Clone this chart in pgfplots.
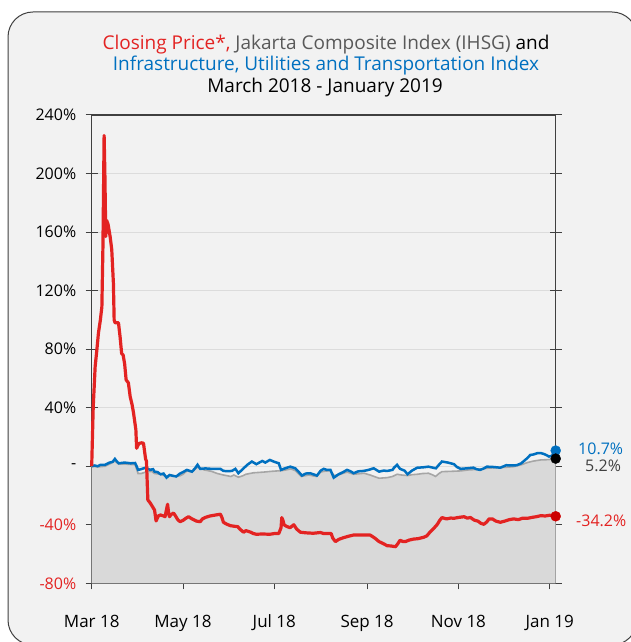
\documentclass[border=0pt]{standalone}
\usepackage{fontspec}
\setmainfont{Open Sans}
\usepackage{pgfplots}
\usepackage{pgfplotstable}
\pgfplotsset{compat=1.18}
\definecolor{bgc}{HTML}{F2F2F2}
\definecolor{redc}{HTML}{E32322}
\definecolor{bluec}{HTML}{0070C0}
\definecolor{grayl}{HTML}{A6A6A6}
\definecolor{grayf}{HTML}{D9D9D9}
\definecolor{axc}{HTML}{404040}
\definecolor{titlegray}{HTML}{595959}
\definecolor{gridc}{HTML}{DCDCDC}

\pgfplotstableread{
x y
0 0
2 0.5
4 0
6 1
9 1
12 2.5
14 3
15.5 5
17 3
18 2
22 2.5
26 2
29 2.2
30 0
31 -2.5
33 -2
36 -1
38 -2
39 -2.5
41 -2
42 -3.7
44 -4
46 -5.5
48 -5
50 -7.8
52 -6
54 -6.5
56.5 -7
59 -5
61 -4
63.6 -2.5
65 -3
67 -3.7
69 -1.5
70.7 1
72.5 -1.8
76 -1.5
80 -1.8
86 -1.8
88 -3.2
91 -3.4
93.7 -3.2
96 -1.8
98 -4.8
101.5 -1.4
104 1
107 3.2
110 1.4
112 2.5
114 3.6
116 2.5
119 4.3
122 3
125 2
126.5 -2.5
129 -1.5
132.7 -0.3
136 -1.4
138 -3.5
140.5 -6.4
143 -5
146 -4.8
148 -5.5
150.5 -6.4
153 -3
155 -1.8
157 -2.5
159.5 -2.5
161.7 -7.8
165 -5.5
168 -4
170.6 -2.5
173 -3.5
175 -4.8
178 -3.5
181.8 -3.2
185 -2.5
188.4 -1.4
192 -3.7
195 -3
197.5 -3.2
201 -2.5
202 -1
204 1
206 -1.8
209 -3
211 -5.5
214 -3
217.5 -1
221 -0.8
225 -0.3
228 -1
230 -1.4
232 1
234 3.2
238 2.5
242 1.4
244 -0.5
246.5 -1.8
250 -1.5
255 -1
257 -2
259.5 -2.5
262 -1.5
264 -0.3
268 -0.5
273 -1
277 0.7
280 0.5
284 0.7
287 2
288.8 3.6
291 5.5
293 7.7
295 8
297.7 8.9
300 9
302 8.4
304 7.5
305.5 6.6
307 7
310 9
}\infradata

\pgfplotstableread{
x y
0 0
4 -0.5
9 0
12 1.5
15.5 3.5
18 1.5
22 1.5
29 1
30 -2
31 -5
33 -5
36 -4
40 -3.5
42 -5
46 -5.5
50 -7
53 -6
56 -7
59 -6.5
61 -5.5
63.6 -3.2
67 -4
70.7 -0.5
75 -2.5
80 -3.5
84 -5
88 -6
93 -7
95 -6
98 -7.5
101 -6.5
103 -5.5
108 -4.5
115 -4
120 -3.5
124 -3.2
127 -3
130 -2.5
133 -1.8
136 -3
140 -7
145 -6
150 -7
153 -4
155 -3.5
159.5 -3
162 -6.4
166 -5.5
170.6 -4
175 -5.5
182 -4.8
186 -6
192 -8.2
197.5 -7.8
201 -7
204 -5.5
207 -6
211 -6.4
214 -5.8
217.5 -5.5
221 -5
225 -4.8
228 -6
229.7 -7
232 -5
234 -3.7
240 -3.5
246.5 -3.2
252 -2.5
258 -2.2
264 -1.4
270 -1
276 -0.8
282 -0.3
287 1
291 2.5
295 3.5
300 4.3
305 4.5
309 5.0
310 5.2
}\ihsgdata

\pgfplotstableread{
x y
0 0
1 40
2.3 68
3.5 80
4.5 91
5.8 100
6.8 109
7.5 150
8.3 226
8.8 200
9.4 157
10 168
11 165
12.3 157
13.4 148
14.5 125
15 100
15.6 98
17.9 98
19 88
20 77
21 76
22 70
23 59
24.5 57
25.7 47.6
27 42
28 36
29.5 25
30 12.3
31.6 15.6
33.5 16
34.6 15.7
36 5
36.6 3.4
37.5 -23
39 -25
40 -26.6
42 -30
43 -37.4
44.5 -34
46 -33.3
48 -34
49 -34.5
50.3 -28
50.7 -26
51.5 -33
52 -34.5
53 -33
54.7 -32
56 -34
57.5 -36.5
59 -37.9
61 -37
63 -35.5
64.7 -34.5
67 -36
70 -37.5
72.5 -37.9
74 -36
75.9 -35
79 -34
83 -33.3
86 -32.8
87 -35
88 -38.3
90 -39.5
92.6 -40.6
95 -41
97.6 -41.3
99 -43
101.5 -45.1
103 -44
106 -45
108 -46
110 -46.5
114 -46.3
119 -46.5
122 -46
125 -46
126.5 -42
127 -35.1
127.8 -37
128.5 -40
130 -41
132.5 -42
135 -40
137 -43
139.4 -45.1
143 -45.5
148 -45.8
152.8 -45.3
155 -46
158 -46
160 -46
161 -49
162.8 -51.5
165 -50
168 -48.9
171 -48
175 -47
180 -47
186 -47
189 -49
192 -51.5
195 -53
197.4 -54.3
200 -54.5
203 -55
204.5 -53
206 -50.6
208 -51.5
209.6 -51.5
212 -50.5
215 -49.8
218 -49.5
220 -49
222 -48.5
224 -47.5
226 -45
228.6 -42.4
231 -39.6
232.5 -37
234 -35.1
237 -36
240 -35.4
242 -35.6
245 -35
248.8 -34.5
251 -35.5
253 -35
255.5 -36.8
258 -37.5
260 -39
262 -39.7
264 -38
265.5 -36
267.7 -36
270 -37.5
273 -38.3
276 -37.5
279 -36.5
282 -36
285 -36.5
288 -35.5
291 -35.6
294 -35
297 -34.5
300 -33.8
303 -34
306 -33.5
310 -34.2
}\closingdata

\begin{document}
\begin{tikzpicture}
\fill[white] (0pt,0pt) rectangle (631pt,642pt);
\begin{scope}
\clip (0pt,0pt) rectangle (631pt,642pt);
\draw[fill=bgc, draw=axc, line width=1pt, rounded corners=25pt] (8pt,-3pt) rectangle (637pt,630pt);
\end{scope}
\node[anchor=base, font=\fontsize{19}{22}\selectfont] at (326pt,592.5pt)
  {\textcolor{redc}{Closing Price*,} \textcolor{titlegray}{Jakarta Composite Index (IHSG)} and};
\node[anchor=base, font=\fontsize{19}{22}\selectfont, text=bluec] at (326pt,571pt)
  {Infrastructure, Utilities and Transportation Index};
\node[anchor=base, font=\fontsize{19}{22}\selectfont] at (325pt,549.5pt)
  {March 2018 - January 2019};
\begin{axis}[
  at={(91.7pt,58.7pt)}, anchor=south west,
  scale only axis, width=464pt, height=468.3pt,
  xmin=0, xmax=310, ymin=-80, ymax=240,
  clip=false,
  xtick={0,61,122,184,245,306},
  xticklabels={Mar 18, May 18, Jul 18, Sep 18, Nov 18, Jan 19},
  ytick={-80,-40,0,40,80,120,160,200,240},
  yticklabels={\textcolor{redc}{-80\%},\textcolor{redc}{-40\%},-,40\%,80\%,120\%,160\%,200\%,240\%},
  xtick pos=bottom, ytick pos=both,
  tick align=center, major tick length=12pt,
  ymajorgrids, grid style={gridc, line width=1pt},
  axis line style={axc, line width=1.3pt},
  tick style={axc, line width=1pt},
  tick label style={text=black},
  xticklabel style={font=\fontsize{17}{20}\selectfont, yshift=-22pt},
  yticklabel style={font=\fontsize{16}{19}\selectfont, xshift=-6pt},
]
\addplot[fill=grayf, draw=none, forget plot] table {\ihsgdata} |- (axis cs:0,-80) -- cycle;
\addplot[grayl, line width=1.6pt] table {\ihsgdata};
\addplot[bluec, line width=2.5pt] table {\infradata};
\addplot[redc, line width=3.2pt, line join=round] table {\closingdata};
\addplot[only marks, mark=*, mark size=5pt, bluec] coordinates {(310,10.7)};
\addplot[only marks, mark=*, mark size=5pt, black] coordinates {(310,5.2)};
\addplot[only marks, mark=*, mark size=5pt, red!80!black] coordinates {(310,-34.2)};
\node[anchor=west, text=bluec, font=\fontsize{16}{19}\selectfont] at (axis cs:310,12) [xshift=19pt] {10.7\%};
\node[anchor=west, text=axc, font=\fontsize{16}{19}\selectfont] at (axis cs:310,0) [xshift=26pt] {5.2\%};
\node[anchor=west, text=redc, font=\fontsize{16}{19}\selectfont] at (axis cs:310,-37) [xshift=17pt] {-34.2\%};
\end{axis}
\end{tikzpicture}
\end{document}
